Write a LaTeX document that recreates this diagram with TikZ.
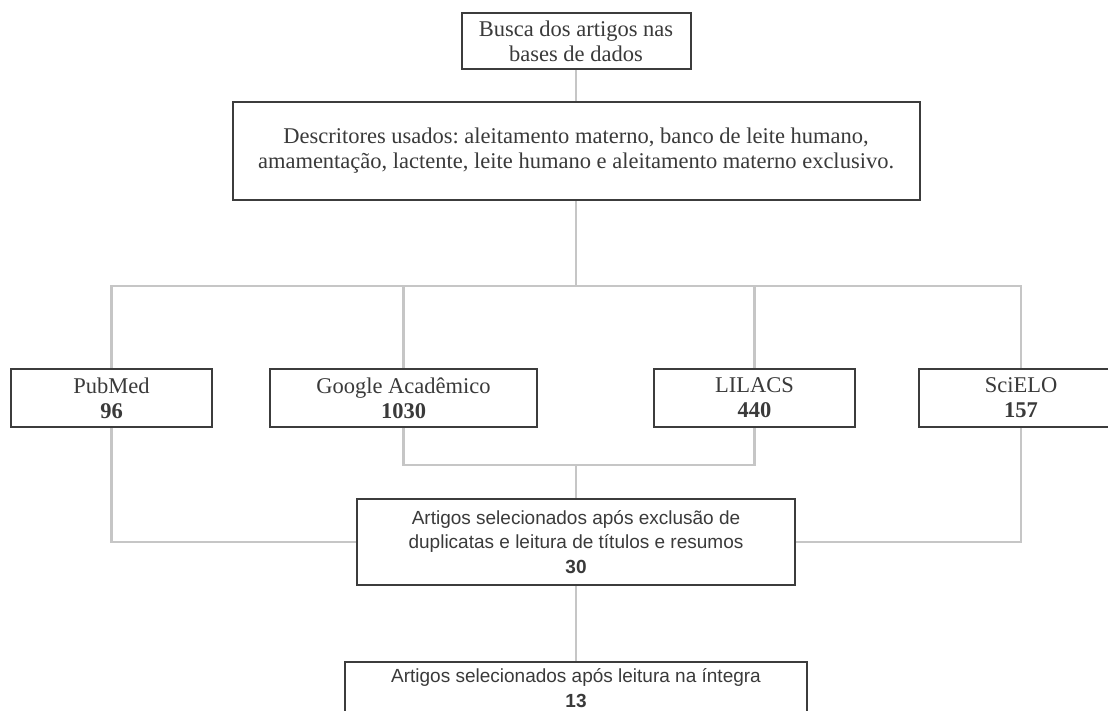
\documentclass[tikz,border=0pt]{standalone}
\usepackage{fontspec}
\setmainfont{Liberation Serif}
\setsansfont{Liberation Sans}
\usetikzlibrary{backgrounds}
\frenchspacing

\definecolor{boxline}{HTML}{3C3C3C}
\definecolor{linkline}{HTML}{C6C6C6}
\definecolor{textgray}{HTML}{3A3A3A}

\def\barrow{286}
\def\joinrow{465}

\begin{document}
\begin{tikzpicture}[x=1pt,y=-1pt]
    \tikzstyle{base}=[draw=boxline,line width=2pt,fill=white,inner sep=0pt,align=center,text=textgray]
    \tikzstyle{serifbox}=[base,font=\fontsize{22.5}{25}\selectfont]
    \tikzstyle{sansbox}=[base,font=\sffamily\fontsize{19}{24.5}\selectfont]
    \tikzstyle{source}=[serifbox,minimum width=201pt,minimum height=58pt]
    \tikzstyle{link}=[draw=linkline,line width=2.5pt]

    \path[use as bounding box,clip] (0,0) rectangle (1108,711);

    % Draw the search boxes
    \node[serifbox,minimum width=229pt,minimum height=56pt] (busca) at (576,41)
        {Busca dos artigos nas\\bases de dados};
    \node[serifbox,minimum width=687pt,minimum height=98pt] (desc) at (576,151)
        {Descritores usados: aleitamento materno, banco de leite humano,\\
         amamentação, lactente, leite humano e aleitamento materno exclusivo.};

    % Draw the database nodes
    \node[source] (pubmed) at (111.5,398) {PubMed\\\textbf{96}};
    \node[source,minimum width=267pt] (google) at (403.5,398) {Google Acadêmico\\\textbf{1030}};
    \node[source] (lilacs) at (754.5,398) {LILACS\\\textbf{440}};
    \node[source,minimum width=204pt] (scielo) at (1021,398) {SciELO\\\textbf{157}};

    % Draw the selection nodes
    \node[sansbox,minimum width=438pt,minimum height=86pt] (sel) at (576,542)
        {Artigos selecionados após exclusão de\\duplicatas e leitura de títulos e resumos\\\textbf{30}};
    \node[sansbox,minimum width=462pt,minimum height=52pt] (final) at (576,688)
        {Artigos selecionados após leitura na íntegra\\\textbf{13}};

    \coordinate (bar) at (576,\barrow);
    \coordinate (join) at (576,\joinrow);

    % Connect the boxes
    \begin{scope}[on background layer]
        \path[link] (busca) -- (desc);
        \path[link] (desc) -- (bar);
        \path[link] (pubmed.north) |- (bar) -| (scielo.north);
        \foreach \db in {google,lilacs}
            \path[link] (\db.north) -- (\db.north |- bar);
        \path[link] (google.south) |- (join) -| (lilacs.south);
        \path[link] (join) -- (sel);
        \path[link] (pubmed.south) |- (sel.west);
        \path[link] (scielo.south) |- (sel.east);
        \path[link] (sel) -- (final);
    \end{scope}
\end{tikzpicture}
\end{document}
